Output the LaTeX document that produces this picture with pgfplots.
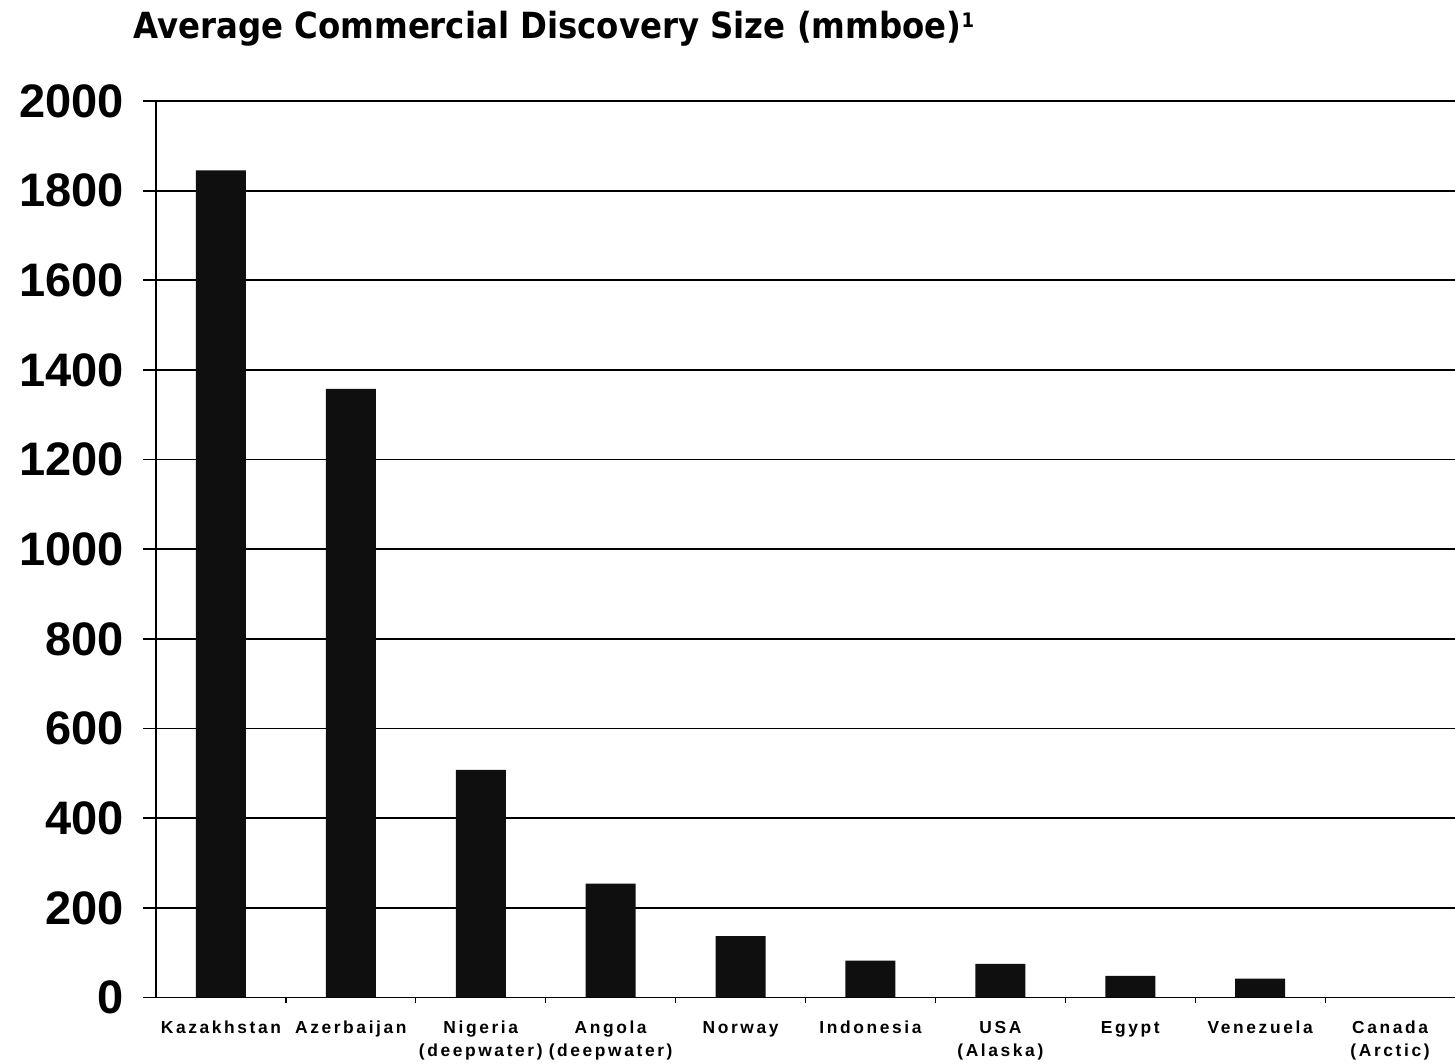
\documentclass[border=0pt]{standalone}
\usepackage{fontspec}
\setmainfont{Liberation Sans}
\newfontfamily\titlefont{DejaVu Sans Condensed}
\newfontfamily\catfont[LetterSpace=15]{Liberation Sans}
\usepackage{pgfplots}
\pgfplotsset{compat=1.18}

% Average commercial discovery size by country (mmboe)
\pgfplotstableread{
idx value
0 1845
1 1358
2 508
3 254
4 137
5 82
6 75
7 48
8 42
9 0
}\discovery

\begin{document}
\begin{tikzpicture}
\begin{axis}[
  at={(78pt,33.25pt)}, anchor=south west,
  scale only axis, width=649.5pt, height=448.25pt,
  xmin=-0.5, xmax=9.5, ymin=0, ymax=2000,
  ybar, bar width=25pt,
  axis lines=left, axis line style={-, black, line width=0.8pt},
  clip=false,
  ytick={0,200,...,2000},
  ymajorgrids, grid style={black, line width=0.9pt},
  tick align=outside, major tick length=6.5pt,
  ytick style={black, line width=0.9pt},
  /pgf/number format/assume math mode=true,
  /pgf/number format/1000 sep={},
  yticklabel style={font=\bfseries\fontsize{23.5}{24}\selectfont, anchor=east, xshift=-6pt},
  xtick={0,...,9},
  xtick style={draw=none},
  xticklabels={\strut Kazakhstan, \strut Azerbaijan, \strut Nigeria\\(deepwater),
    \strut Angola\\(deepwater), \strut Norway, \strut Indonesia, \strut USA\\(Alaska),
    \strut Egypt, \strut Venezuela, \strut Canada\\(Arctic)},
  xticklabel style={font=\catfont\bfseries\fontsize{8.7}{11.5}\selectfont, align=center, anchor=north},
  extra x ticks={0.5,1.5,...,8.5},
  extra x tick labels={},
  extra x tick style={xtick style={draw=black, line width=0.6pt}, major tick length=3pt},
]
\addplot[fill=black!94, draw=none] table[x=idx, y=value] {\discovery};
\end{axis}
\node[anchor=base west, font=\titlefont\bfseries\fontsize{18}{20}\selectfont, inner sep=0pt]
  at (66.5pt,512.5pt) {Average Commercial Discovery Size (mmboe)\raisebox{5.5pt}{\fontsize{10}{10}\selectfont 1}};
\pgfresetboundingbox
\useasboundingbox (0,0) rectangle (727.5pt,532pt);
\end{tikzpicture}
\end{document}
